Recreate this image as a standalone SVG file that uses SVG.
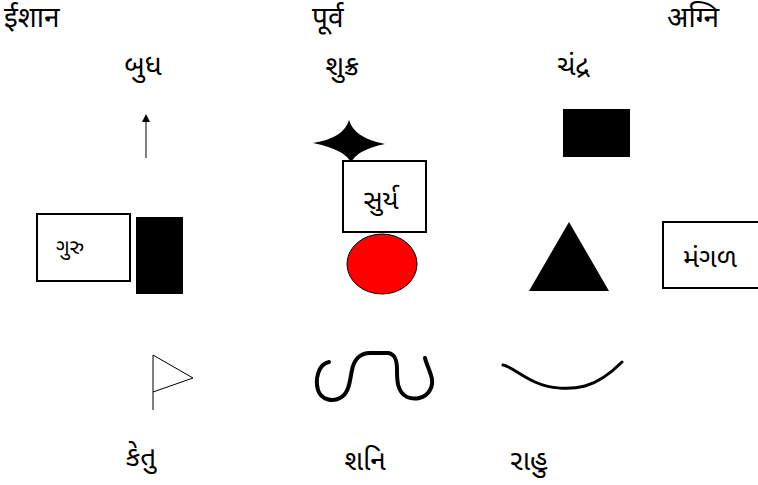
<svg xmlns="http://www.w3.org/2000/svg" width="758" height="485" viewBox="0 0 758 485">
<defs>
<style>
.dev{font-family:"Noto Sans","Noto Sans Devanagari","Lohit Devanagari",sans-serif;font-size:28px;fill:#000}
.guj{font-family:"Noto Sans","Noto Sans Gujarati","Lohit Gujarati",sans-serif;font-size:28px;fill:#000;text-anchor:middle}
.box{fill:#fff;stroke:#000;stroke-width:2}
.blk{fill:#000;stroke:none}
.thin{fill:none;stroke:#000;stroke-width:1}
.thick{fill:none;stroke:#000;stroke-width:4;stroke-linecap:round;stroke-linejoin:round}
</style>
<marker id="ah" viewBox="0 0 10 10" refX="5" refY="5" markerWidth="8" markerHeight="8" orient="auto">
<path d="M0,0 L10,5 L0,10 z" fill="#000"/>
</marker>
</defs>
<rect width="758" height="485" fill="#fff"/>
<g id="directions">
<text class="dev" x="4" y="27">ईशान</text>
<text class="dev" x="312" y="27">पूर्व</text>
<text class="dev" x="667" y="27">अग्नि</text>
</g>
<g id="budh">
<text class="guj" x="143" y="75">બુધ</text>
</g>
<g id="shukra">
<text class="guj" x="342" y="75">શુક્ર</text>
<path class="blk" d="M349,120 Q354,138 385,144 Q356,150 351,163 Q346,150 313,143 Q344,138 349,120 z"/>
</g>
<g id="chandra">
<text class="guj" x="573" y="75">ચંદ્ર</text>
<rect class="blk" x="563" y="109" width="67" height="48"/>
</g>
<g id="connectors">
<line class="thin" x1="146" y1="158" x2="146" y2="118" marker-end="url(#ah)"/>
</g>
<g id="surya">
<rect class="box" x="343" y="161" width="83" height="71"/>
<text class="guj" x="381" y="209" style="font-size:27px">સુર્ય</text>
<ellipse cx="382" cy="264" rx="35" ry="30" fill="#f00" stroke="#000" stroke-width="1"/>
</g>
<g id="guru">
<rect class="box" x="37" y="214" width="93" height="67"/>
<text class="guj" x="70" y="254" style="font-size:21px">ગુરુ</text>
<rect class="blk" x="136" y="217" width="47" height="77"/>
</g>
<g id="mangal">
<path class="blk" d="M569,222 L609,291 L529,291 z"/>
<rect class="box" x="663" y="222" width="96" height="66"/>
<text class="guj" x="710" y="267" style="font-size:27px">મંગળ</text>
</g>
<g id="ketu">
<path class="thin" d="M153,355 L153,410 M153,355 L193,378 L153,392" stroke="#333"/>
<text class="guj" x="141" y="466">કેતુ</text>
</g>
<g id="shani">
<path class="thick" d="M329,362 C318,364 315,380 318,390 C321,400 333,402 340,398 C350,393 350,378 352,370 C354,360 360,353 370,353 L388,353 C396,354 397,362 397,370 C397,380 397,392 407,397 C414,400 425,399 430,390 C436,380 428,370 425,358"/>
<text class="guj" x="365" y="470">શનિ</text>
</g>
<g id="rahu">
<path class="thick" d="M503,365 C510,366 520,375 535,382 C550,389 570,390 585,386 C600,382 612,372 622,362" style="stroke-width:3"/>
<text class="guj" x="529" y="470">રાહુ</text>
</g>
</svg>
